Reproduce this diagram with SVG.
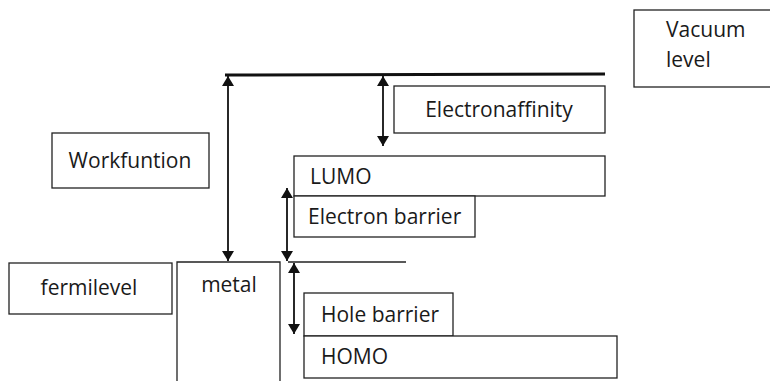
<svg xmlns="http://www.w3.org/2000/svg" width="770" height="381" viewBox="0 0 770 381">
<defs>
<marker id="ah" viewBox="0 0 10 12" refX="10" refY="6" markerWidth="10" markerHeight="12" markerUnits="userSpaceOnUse" orient="auto-start-reverse">
<path d="M0,0 L10,6 L0,12 Z" fill="#111"/>
</marker>
</defs>
<style>
.box{fill:#fff;stroke:#222;stroke-width:1.3}
.t{font-family:"Open Sans","Noto Sans",sans-serif;font-size:21px;fill:#1a1a1a}
.c{text-anchor:middle}
.arr{stroke:#111;stroke-width:1.8;fill:none;marker-start:url(#ah);marker-end:url(#ah)}
.ln{stroke:#222;stroke-width:1.3;fill:none}
</style>
<rect width="770" height="381" fill="#fff"/>
<g id="vacuum-level">
<rect class="box" x="634" y="10" width="140" height="77"/>
<text class="t" x="666" y="37">Vacuum</text>
<text class="t" x="666" y="67">level</text>
</g>
<g id="vacuum-line">
<line x1="225" y1="75" x2="605" y2="74" stroke="#111" stroke-width="3"/>
</g>
<g id="electronaffinity">
<rect class="box" x="394" y="86" width="211" height="47"/>
<text class="t c" x="499" y="117">Electronaffinity</text>
</g>
<g id="workfuntion">
<rect class="box" x="52" y="133" width="157" height="55"/>
<text class="t c" x="130" y="168">Workfuntion</text>
</g>
<g id="lumo">
<rect class="box" x="294" y="156" width="311" height="40"/>
<text class="t" x="310" y="184">LUMO</text>
</g>
<g id="electron-barrier">
<rect class="box" x="294" y="196" width="181" height="41"/>
<text class="t" x="308" y="224">Electron barrier</text>
</g>
<g id="fermilevel">
<rect class="box" x="9" y="263" width="163" height="51"/>
<text class="t c" x="89" y="295">fermilevel</text>
</g>
<g id="metal">
<path class="ln" d="M177,381 V262 H280 V381"/>
<text class="t c" x="229" y="292">metal</text>
</g>
<g id="hole-barrier">
<rect class="box" x="304" y="293" width="149" height="43"/>
<text class="t" x="321" y="322">Hole barrier</text>
</g>
<g id="homo">
<rect class="box" x="304" y="336" width="313" height="42"/>
<text class="t" x="321" y="364">HOMO</text>
</g>
<g id="connectors">
<line class="arr" x1="228" y1="76" x2="228" y2="261"/>
<line class="arr" x1="383" y1="76" x2="383" y2="146"/>
<line class="arr" x1="287" y1="188" x2="287" y2="261"/>
<line class="ln" x1="288" y1="262" x2="406" y2="262"/>
<line class="arr" x1="294" y1="263" x2="294" y2="334"/>
</g>
</svg>
